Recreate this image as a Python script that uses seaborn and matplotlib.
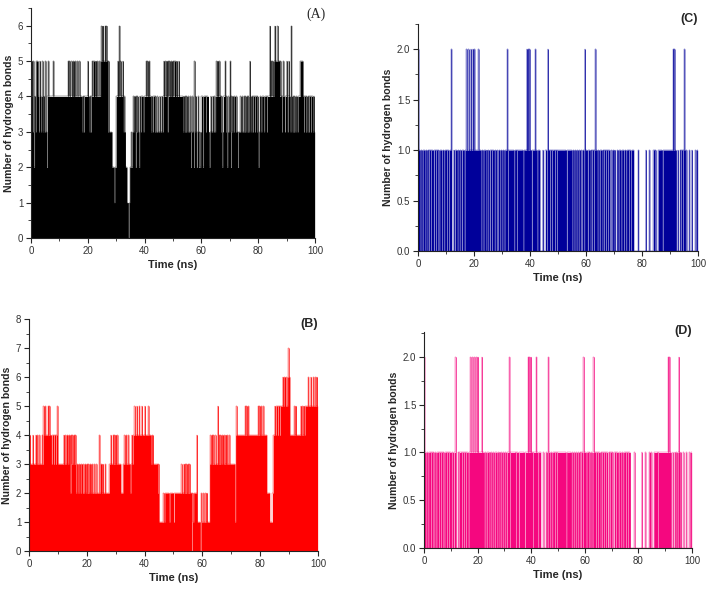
import numpy as np
import matplotlib
matplotlib.use("Agg")
import matplotlib.pyplot as plt
import seaborn as sns
from matplotlib.ticker import MultipleLocator

# hydrogen bond counts, one digit every 0.25 ns, one string per 10 ns
rows_a = [
    "4535243555 4354345343 5324544444 4544444444",
    "4444444444 4454544545 5454454454 4434344444",
    "5434345455 4545445456 5655656535 3333222122",
    "4454645445 3432211012 2323434243 4324344434",
    "4454545443 4344343343 3433434545 4535454554",
    "5455454454 4444343434 3433423432 5342342323",
    "4424443444 3234334343 4545454342 3445342343",
    "5243434434 3233343433 4343434354 3434434434",
    "2344344434 4434446454 5456555655 4543454344",
    "5345436434 3434434445 5554344343 4344344343",
]
rows_b = [
    "3433343334 3433433343 5454445454 4344344345",
    "3333333343 4344344243 4343423323 3233232332",
    "3232332322 3223222423 3232232222 2334334343",
    "4343333222 3343433433 2343445445 4454445444",
    "5444454443 4433333323 1111112122 2222122222",
    "1222222222 2322323232 3232202122 2241111021",
    "1211212111 3434343343 3534343443 4343433433",
    "3333314544 4444444445 4545444444 4444444545",
    "4544544442 2221111244 5455455455 5656656567",
    "6444444545 4444445454 5455556555 6556556565",
]
rows_c = [
    "2110110111 0110101101 1101101101 0111011011",
    "1011011200 0101110110 1101110112 1121121121",
    "2111112111 0110111010 1101101110 1101011011",
    "0110111201 1111111011 1011111111 0111121212",
    "1101111211 0111000010 0011021101 1011101101",
    "1111111111 1101111111 0110110110 1101011021",
    "1101110101 1012110110 1110101101 1011001011",
    "0100110111 0111011011 1011011100 0000100000",
    "0000010000 1000001101 0001111110 1111111111",
    "1111212110 0100101101 2101000100 0100001011",
]
rows_d = list(rows_c)


def to_counts(rows):
    return [int(c) for c in "".join(rows).replace(" ", "")]


hb_a = to_counts(rows_a)
hb_b = to_counts(rows_b)
hb_c = to_counts(rows_c)
hb_d = to_counts(rows_d)
time_ns = 0.125 + 0.25 * np.arange(len(hb_a))

sns.set_style("ticks")
plt.rcParams["font.family"] = ["Liberation Sans", "DejaVu Sans"]

fig = plt.figure(figsize=(7.09, 5.89), dpi=100)

panels = [
    # data, colour, axes rect, ylim, major, minor, tag, tag pos, tag font, weight
    (hb_a, "#000000", [0.0437, 0.5959, 0.4006, 0.3905], 6.5, 1, 0.5,
     "(A)", (0.446, 0.987), "Liberation Serif", "normal"),
    (hb_b, "#ff0000", [0.0409, 0.0645, 0.4076, 0.3939], 8, 1, 0.5,
     "(B)", (0.436, 0.46), "Liberation Sans", "bold"),
    (hb_c, "#00009a", [0.5896, 0.5739, 0.3949, 0.3854], 2.25, 0.5, 0.25,
     "(C)", (0.972, 0.978), "Liberation Sans", "bold"),
    (hb_d, "#f5077f", [0.598, 0.0696, 0.378, 0.3667], 2.26, 0.5, 0.25,
     "(D)", (0.963, 0.448), "Liberation Sans", "bold"),
]

for hb, col, rect, ytop, major, minor, tag, tagpos, tagfont, tagw in panels:
    ax = fig.add_axes(rect)
    sns.lineplot(x=time_ns, y=hb, ax=ax, color=col, lw=0.25,
                 drawstyle="steps-mid", estimator=None)
    ax.fill_between(time_ns, hb, step="mid", color=col, lw=0)
    ax.set_xlim(0, 100)
    ax.set_ylim(0, ytop)
    ax.xaxis.set_major_locator(MultipleLocator(20))
    ax.xaxis.set_minor_locator(MultipleLocator(10))
    ax.yaxis.set_major_locator(MultipleLocator(major))
    ax.yaxis.set_minor_locator(MultipleLocator(minor))
    if major == 0.5:
        ax.yaxis.set_major_formatter(matplotlib.ticker.FormatStrFormatter("%.1f"))
    ax.tick_params(which="major", length=3.5, width=0.8, labelsize=7,
                   labelcolor="#333333", pad=2)
    ax.tick_params(which="minor", length=2, width=0.6)
    for s in ["top", "right"]:
        ax.spines[s].set_visible(False)
    for s in ["left", "bottom"]:
        ax.spines[s].set_linewidth(0.8)
        ax.spines[s].set_color("#222222")
    ax.set_xlabel("Time (ns)", fontsize=8, fontweight="bold", labelpad=3)
    ax.set_ylabel("Number of hydrogen bonds", fontsize=7.6,
                  fontweight="bold", labelpad=3)
    fig.text(tagpos[0], tagpos[1], tag, ha="center", va="top",
             fontsize=10 if tagw == "normal" else 9, fontweight=tagw,
             family=tagfont)

fig.savefig("out.png", dpi=100)
